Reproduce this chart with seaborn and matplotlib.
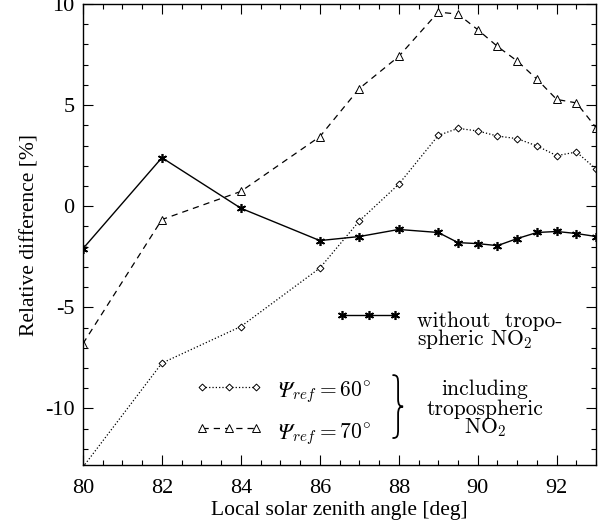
import matplotlib
matplotlib.use("Agg")
import matplotlib.pyplot as plt
import seaborn as sns
import pandas as pd
from matplotlib.lines import Line2D
from matplotlib.ticker import MultipleLocator
from matplotlib.path import Path
from matplotlib.patches import PathPatch
from matplotlib.transforms import Affine2D

sza = [80, 82, 84, 86, 87, 88, 89, 89.5, 90, 90.5, 91, 91.5, 92, 92.5, 93]
without_trop = [-2.1, 2.4, -0.1, -1.7, -1.5, -1.15, -1.3, -1.8, -1.85, -1.95, -1.6, -1.3, -1.25, -1.35, -1.5]
psi60 = [-12.9, -7.76, -5.95, -3.06, -0.73, 1.09, 3.5, 3.85, 3.72, 3.47, 3.34, 2.98, 2.5, 2.68, 1.83]
psi70 = [-6.8, -0.66, 0.73, 3.44, 5.82, 7.41, 9.6, 9.5, 8.73, 7.9, 7.18, 6.28, 5.28, 5.11, 3.88]

xticks = [80, 82, 84, 86, 88, 90, 92]
yticks = [-10, -5, 0, 5, 10]

sns.set_style("ticks")
plt.rcParams["font.family"] = ["Liberation Serif", "DejaVu Serif"]
plt.rcParams["mathtext.fontset"] = "cm"
plt.rcParams["axes.unicode_minus"] = False
for k in ["text.color", "axes.labelcolor", "xtick.color", "ytick.color", "axes.edgecolor"]:
    plt.rcParams[k] = "black"

fig = plt.figure(figsize=(6.01, 5.27), dpi=100)
ax = fig.add_axes([0.138, 0.1176, 0.854, 0.8748])

df = pd.DataFrame({"sza": sza, "without": without_trop, "p60": psi60, "p70": psi70})

ast = (6, 2, 0)
st_w = dict(color="black", lw=1.0, marker=ast, markersize=6.5, markeredgewidth=1.2,
            markeredgecolor="black")
st_60 = dict(color="black", lw=0.9, linestyle=":", marker="D", markersize=3.5,
             markerfacecolor="white", markeredgecolor="black", markeredgewidth=0.7)
st_70 = dict(color="black", lw=0.9, linestyle=(0, (5, 4)), marker="^", markersize=5.5,
             markerfacecolor="white", markeredgecolor="black", markeredgewidth=0.7)

sns.lineplot(data=df, x="sza", y="without", ax=ax, **st_w)
sns.lineplot(data=df, x="sza", y="p60", ax=ax, **st_60)
sns.lineplot(data=df, x="sza", y="p70", ax=ax, **st_70)

ax.set_xlim(80, 93)
ax.set_ylim(-12.8, 10)
ax.set_xticks(xticks)
ax.set_yticks(yticks)
ax.set_xticklabels([str(t) for t in xticks])
ax.set_yticklabels([str(t) for t in yticks])
ax.xaxis.set_minor_locator(MultipleLocator(0.5))
ax.yaxis.set_minor_locator(MultipleLocator(1))
ax.tick_params(which="both", direction="in", top=True, right=True, width=0.8, labelsize=16)
ax.tick_params(which="major", length=7)
ax.tick_params(which="minor", length=3.6)
ax.tick_params(axis="x", pad=10)
ax.tick_params(axis="y", pad=6)
for s in ax.spines.values():
    s.set_linewidth(1.0)

ax.set_xlabel("Local solar zenith angle [deg]", fontsize=15.5, labelpad=2)
ax.set_ylabel("Relative difference [%]", fontsize=15.5, labelpad=4)

# legend keys
fs = 15.5
cm = "cmr10"
leg1 = ax.legend([Line2D([], [], **st_w)], [" "], loc="center left",
                 bbox_to_anchor=(0.493, 0.319), frameon=False, fontsize=fs,
                 handlelength=3.05, handletextpad=0.0, numpoints=3, borderpad=0,
                 borderaxespad=0)
ax.add_artist(leg1)
leg2 = ax.legend([Line2D([], [], **st_60), Line2D([], [], **st_70)], [" ", " "],
                 loc="center left", bbox_to_anchor=(0.220, 0.119), frameon=False,
                 fontsize=fs, handlelength=3.1, handletextpad=0.0, numpoints=3,
                 labelspacing=1.0, borderpad=0, borderaxespad=0)

# legend texts
ax.text(0.651, 0.299, "without  tropo-", transform=ax.transAxes, fontsize=fs, family=cm,
        ha="left", va="baseline")
ax.text(0.651, 0.260, "spheric NO$_2$", transform=ax.transAxes, fontsize=fs, family=cm,
        ha="left", va="baseline")

for yb, lab in [(0.1475, r"$_{ref}=60^{\circ}$"), (0.0564, r"$_{ref}=70^{\circ}$")]:
    ax.text(0.378, yb, "\u03a8", transform=ax.transAxes, fontsize=fs, family="STIXGeneral",
            style="italic", ha="left", va="baseline")
    ax.text(0.407, yb, lab, transform=ax.transAxes, fontsize=fs, ha="left", va="baseline")

for yb, lab in [(0.152, "including"), (0.108, "tropospheric"), (0.0694, "NO$_2$")]:
    ax.text(0.7836, yb, lab, transform=ax.transAxes, fontsize=fs, family=cm,
            ha="center", va="baseline")

# brace (thin stroked curve), unit box -> axes fraction box
verts = [(0, 1), (0.45, 1), (0.5, 0.96), (0.5, 0.86),
         (0.5, 0.62),
         (0.5, 0.53), (0.65, 0.5), (1, 0.5),
         (0.65, 0.5), (0.5, 0.47), (0.5, 0.38),
         (0.5, 0.14),
         (0.5, 0.04), (0.45, 0), (0, 0)]
codes = [Path.MOVETO, Path.CURVE4, Path.CURVE4, Path.CURVE4,
         Path.LINETO,
         Path.CURVE4, Path.CURVE4, Path.CURVE4,
         Path.CURVE4, Path.CURVE4, Path.CURVE4,
         Path.LINETO,
         Path.CURVE4, Path.CURVE4, Path.CURVE4]
bx0, bx1, by0, by1 = 0.6043, 0.6238, 0.0586, 0.195
tr = Affine2D().scale(bx1 - bx0, by1 - by0).translate(bx0, by0)
ax.add_patch(PathPatch(tr.transform_path(Path(verts, codes)), transform=ax.transAxes,
                       facecolor="none", edgecolor="black", lw=1.3, capstyle="round",
                       clip_on=False))

fig.savefig("out.png", dpi=100)
